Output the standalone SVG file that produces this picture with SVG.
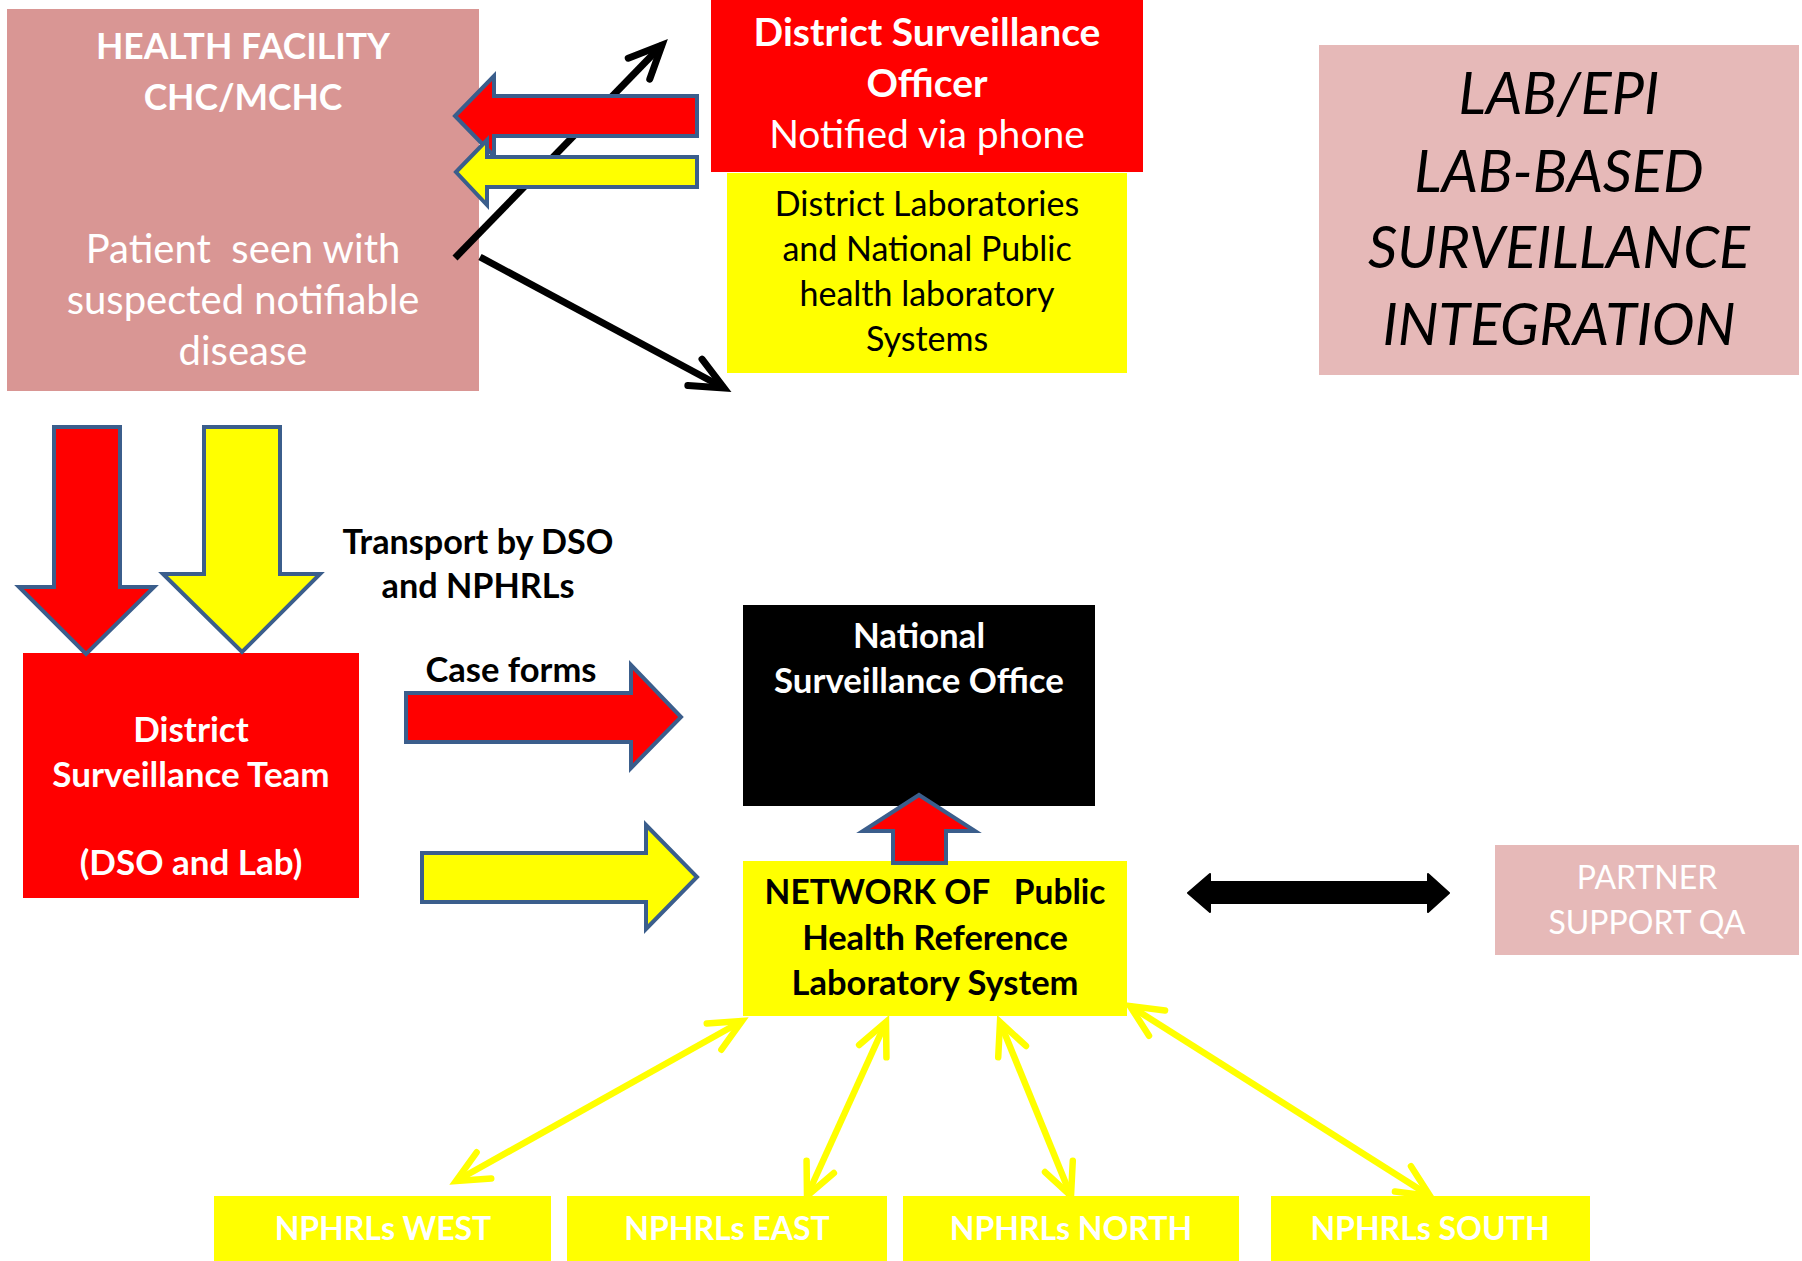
<svg xmlns="http://www.w3.org/2000/svg" width="1802" height="1261" viewBox="0 0 1802 1261">
<style>
.t{font-family:Lato,"Open Sans","Liberation Sans",sans-serif;text-anchor:middle}
.b{font-weight:bold}
.i{font-style:italic}
.w{fill:#FFFFFF}
.k{fill:#000000}
.hf{fill:#D99694}
.pk{fill:#E6B9B8}
.rd{fill:#FF0000}
.yl{fill:#FFFF00}
.bk{fill:#000000}
.blk{stroke:#3B5E8C;stroke-width:4;stroke-linejoin:miter}
.ln{fill:none;stroke:#000000;stroke-width:7}
.yln{fill:none;stroke:#FFFF00;stroke-width:6.5}
</style>
<defs>
<marker id="ahK" markerUnits="userSpaceOnUse" orient="auto" refX="0" refY="0" overflow="visible">
<path d="M-33,-15 L0,0 L-33,15" fill="none" stroke="#000000" stroke-width="7" stroke-linecap="round"/>
</marker>
<marker id="ahY" markerUnits="userSpaceOnUse" orient="auto-start-reverse" refX="0" refY="0" overflow="visible">
<path d="M-32,-15 L0,0 L-32,15" fill="none" stroke="#FFFF00" stroke-width="6.5" stroke-linecap="round"/>
</marker>
</defs>
<rect width="1802" height="1261" fill="#FFFFFF"/>

<g id="health-facility">
<rect class="hf" x="7" y="9" width="472" height="382"/>
<text class="t b w" x="243" y="59" font-size="35.5">HEALTH FACILITY</text>
<text class="t b w" x="243" y="110" font-size="35.5">CHC/MCHC</text>
<text class="t w" x="243" y="263" font-size="40" xml:space="preserve">Patient  seen with</text>
<text class="t w" x="243" y="314" font-size="40">suspected notifiable</text>
<text class="t w" x="243" y="365" font-size="40">disease</text>
</g>

<g id="district-surveillance-officer">
<rect class="rd" x="711" y="0" width="432" height="172"/>
<text class="t b w" x="927" y="46" font-size="39">District Surveillance</text>
<text class="t b w" x="927" y="97" font-size="39">Officer</text>
<text class="t w" x="927" y="148" font-size="39">Notified via phone</text>
</g>

<g id="district-laboratories">
<rect class="yl" x="727" y="173" width="400" height="200"/>
<text class="t k" x="927" y="216" font-size="34">District Laboratories</text>
<text class="t k" x="927" y="261" font-size="34">and National Public</text>
<text class="t k" x="927" y="306" font-size="34">health laboratory</text>
<text class="t k" x="927" y="351" font-size="34">Systems</text>
</g>

<g id="lab-epi-title">
<rect class="pk" x="1319" y="45" width="480" height="330"/>
<text class="t i k" x="1559" y="114" font-size="57.5">LAB/EPI</text>
<text class="t i k" x="1559" y="192" font-size="57.5">LAB-BASED</text>
<text class="t i k" x="1559" y="268" font-size="57.5">SURVEILLANCE</text>
<text class="t i k" x="1559" y="345" font-size="57.5">INTEGRATION</text>
</g>

<g id="transport-label">
<text class="t b k" x="478" y="554" font-size="34.2">Transport by DSO</text>
<text class="t b k" x="478" y="598" font-size="34.2">and NPHRLs</text>
</g>

<g id="district-surveillance-team">
<rect class="rd" x="23" y="653" width="336" height="245"/>
<text class="t b w" x="191" y="742" font-size="35">District</text>
<text class="t b w" x="191" y="787" font-size="35">Surveillance Team</text>
<text class="t b w" x="191" y="875" font-size="35">(DSO and Lab)</text>
</g>

<g id="case-forms-label">
<text class="t b k" x="511" y="682" font-size="34.5">Case forms</text>
</g>

<g id="national-surveillance-office">
<rect class="bk" x="743" y="605" width="352" height="201"/>
<text class="t b w" x="919" y="648" font-size="34.8">National</text>
<text class="t b w" x="919" y="693" font-size="34.8">Surveillance Office</text>
</g>

<g id="network-phrl">
<rect class="yl" x="743" y="861" width="384" height="155"/>
<text class="t b k" x="935" y="904" font-size="33.5" xml:space="preserve">NETWORK OF   Public</text>
<text class="t b k" x="935" y="950" font-size="34.5">Health Reference</text>
<text class="t b k" x="935" y="995" font-size="34.5">Laboratory System</text>
</g>

<g id="partner-support">
<rect class="pk" x="1495" y="845" width="304" height="110"/>
<text class="t w" x="1647" y="889" font-size="32">PARTNER</text>
<text class="t w" x="1647" y="934" font-size="32">SUPPORT QA</text>
</g>

<g id="nphrls-west">
<rect class="yl" x="214" y="1196" width="337" height="65"/>
<text class="t b w" x="383" y="1240" font-size="32">NPHRLs WEST</text>
</g>
<g id="nphrls-east">
<rect class="yl" x="567" y="1196" width="320" height="65"/>
<text class="t b w" x="727" y="1240" font-size="32">NPHRLs EAST</text>
</g>
<g id="nphrls-north">
<rect class="yl" x="903" y="1196" width="336" height="65"/>
<text class="t b w" x="1071" y="1240" font-size="32">NPHRLs NORTH</text>
</g>
<g id="nphrls-south">
<rect class="yl" x="1271" y="1196" width="319" height="65"/>
<text class="t b w" x="1430" y="1240" font-size="32">NPHRLs SOUTH</text>
</g>

<g id="connectors">
<line class="ln" x1="455" y1="258" x2="662" y2="45" marker-end="url(#ahK)"/>
<line class="ln" x1="480" y1="257" x2="724" y2="388" marker-end="url(#ahK)"/>
<polygon class="rd blk" points="455,116 494,76 494,96 697,96 697,136 494,136 494,156"/>
<polygon class="yl blk" points="456,172 487,140 487,157 697,157 697,187 487,187 487,205"/>
<polygon class="rd blk" points="54,427 120,427 120,587 154,587 86,654 19,587 54,587"/>
<polygon class="yl blk" points="204,427 280,427 280,574 320,574 242,652 163,574 204,574"/>
<polygon class="rd blk" points="406,693 631,693 631,665 681,717 631,768 631,742 406,742"/>
<polygon class="yl blk" points="422,853 646,853 646,825 697,877 646,929 646,902 422,902"/>
<polygon class="rd blk" points="919,795 975,831 946,831 946,863 893,863 893,831 863,831"/>
<polygon fill="#000000" stroke="#000000" stroke-width="2" stroke-linejoin="round" points="1188,893 1210,874 1210,882 1428,882 1428,874 1449,893 1428,912 1428,903 1210,903 1210,912"/>
<line class="yln" x1="742" y1="1021" x2="456" y2="1181" marker-start="url(#ahY)" marker-end="url(#ahY)"/>
<line class="yln" x1="886" y1="1022" x2="807" y2="1196" marker-start="url(#ahY)" marker-end="url(#ahY)"/>
<line class="yln" x1="1000" y1="1022" x2="1071" y2="1196" marker-start="url(#ahY)" marker-end="url(#ahY)"/>
<line class="yln" x1="1130" y1="1006" x2="1430" y2="1196" marker-start="url(#ahY)" marker-end="url(#ahY)"/>
</g>
</svg>
